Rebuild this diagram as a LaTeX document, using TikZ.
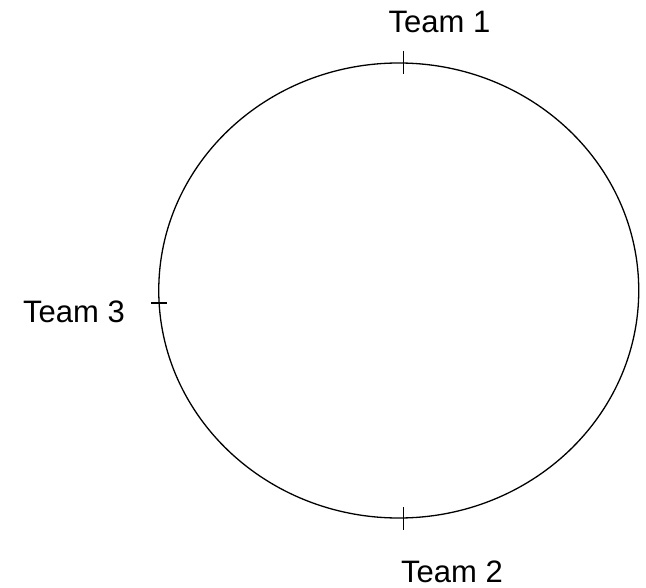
\documentclass[tikz,border=0pt]{standalone}
\usepackage{fontspec}
\setmainfont{Liberation Sans}
\begin{document}
\begin{tikzpicture}[x=1pt,y=-1pt,
  lbl/.style={anchor=base,inner sep=0pt,font=\fontsize{31}{34}\selectfont},
  ring/.style={line width=1.3pt},
  tick/.style={line width=1.3pt}]
\useasboundingbox (0,0) rectangle (646,588);
\draw[ring] (398.75,290.5) ellipse [x radius=240, y radius=227.5];
\coordinate (t1a) at (403.5,51); \coordinate (t1b) at (403.5,74);
\coordinate (t2a) at (403.5,507); \coordinate (t2b) at (403.5,530);
\coordinate (t3a) at (151,303); \coordinate (t3b) at (167,303);
\draw[tick] (t1a) -- (t1b);
\draw[tick] (t2a) -- (t2b);
\draw[tick] (t3a) -- (t3b);
\node[lbl] (team1) at (439.5,32.7) {Team 1};
\node[lbl] (team2) at (452,582.5) {Team 2};
\node[lbl] (team3) at (74,322.7) {Team 3};
\end{tikzpicture}
\end{document}
